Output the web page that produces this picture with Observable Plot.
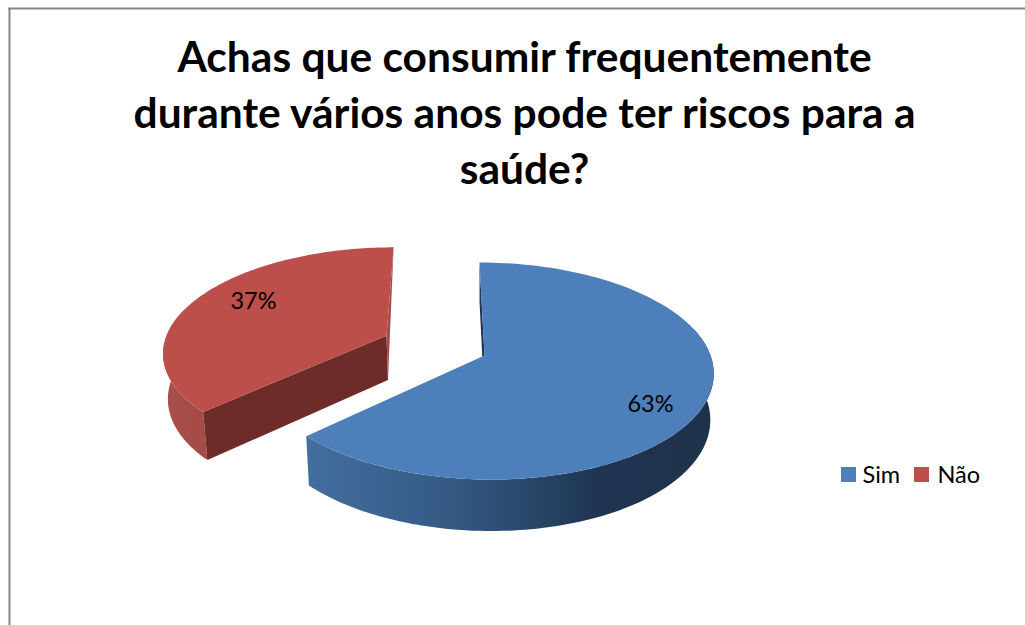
<!DOCTYPE html>
<html lang="pt">
<head>
<meta charset="utf-8">
<script src="https://cdn.jsdelivr.net/npm/d3@7"></script>
<script src="https://cdn.jsdelivr.net/npm/@observablehq/plot@0.6"></script>
<style>
  html, body { margin: 0; padding: 0; background: #fff; overflow: hidden; }
  svg { display: block; }
</style>
</head>
<body>
<div id="chart"></div>
<script>
// Survey answers
const categories = ["Sim", "Não"];
const shares = [63, 37];
const titleLines = [
  "Achas que consumir frequentemente",
  "durante vários anos pode ter riscos para a",
  "saúde?"
];

// Slice styling
const topColors = ["#4d7fbb", "#bd4f4b"];
const innerWallColors = ["#1f3552", "#6d2b2a"];
const outerWallFills = ["url(#blue-wall)", "url(#red-wall)"];
const explode = [0, 0.48];
const labelAnchors = [[650, 404], [253, 301]];

// Perspective view of the unit disc: centre, horizontal and vertical radii, depth factor, shear
const view = {cx: 484, cy: 355, f: 226, g: 106.3, k: 1 / 7, s: 5.7};
const base = {dy: 45.3, sx: 0.985, sy: 1.05};

function onTop([u, v]) {
  const w = 1 - view.k * v;
  return {
    x: view.cx + (view.f * u + view.s * v) / w,
    y: view.cy + (view.g * v) / w
  };
}
function onBase(p) {
  const q = onTop(p);
  return {
    x: view.cx + (q.x - view.cx) * base.sx,
    y: view.cy + base.dy + (q.y - view.cy) * base.sy
  };
}

const total = d3.sum(shares);
const ends = Array.from(d3.cumsum(shares), (c) => (c / total) * 2 * Math.PI);
const slices = categories.map((name, i) => {
  const a0 = i ? ends[i - 1] : 0;
  const a1 = ends[i];
  const mid = (a0 + a1) / 2;
  const origin = [explode[i] * Math.sin(mid), -explode[i] * Math.cos(mid)];
  const at = (a) => [origin[0] + Math.sin(a), origin[1] - Math.cos(a)];
  const arc = (from, to) => d3.range(0, 121).map((j) => at(from + ((to - from) * j) / 120));
  return {name, i, a0, a1, origin, at, arc};
});

const toRad = Math.PI / 180;
const topFace = (s) => [onTop(s.origin), ...s.arc(s.a0, s.a1).map(onTop)];
const outerWall = (s) => {
  const arc = s.arc(Math.max(s.a0, 75 * toRad), Math.min(s.a1, 285 * toRad));
  return [...arc.map(onTop), ...arc.reverse().map(onBase)];
};
// Cut faces of a slice, from the apex out to the rim
const cutFace = (s, a) => [onTop(s.origin), onTop(s.at(a)), onBase(s.at(a)), onBase(s.origin)];
const cutSliver = (s, a) => [onTop(s.origin), onTop(s.at(a)), onBase(s.origin)];

const face = (points, fill) => Plot.line(points, {x: "x", y: "y", fill, stroke: "none"});

const gradient = (id, stops) => () => {
  const defs = d3.create("svg:defs");
  const g = defs.append("linearGradient").attr("id", id).attr("x1", 0).attr("x2", 1).attr("y1", 0).attr("y2", 0);
  for (const [offset, color] of stops) g.append("stop").attr("offset", offset).attr("stop-color", color);
  return defs.node();
};

const [blue, red] = slices;
const font = "Lato, 'Open Sans', sans-serif";

const figure = Plot.plot({
  width: 1025,
  height: 625,
  margin: 0,
  x: {domain: [0, 1025], range: [0, 1025], axis: null},
  y: {domain: [0, 625], range: [0, 625], axis: null},
  style: {background: "#fff", fontFamily: font},
  marks: [
    gradient("blue-wall", [[0, "#436e9f"], [0.35, "#345a84"], [0.72, "#1f3552"], [1, "#1e3249"]]),
    gradient("red-wall", [[0, "#a94f4c"], [1, "#a34b48"]]),

    // Chart frame
    Plot.ruleX([9], {y1: 8, y2: 625, stroke: "#878787", strokeWidth: 2}),
    Plot.ruleY([8], {x1: 8, x2: 1025, stroke: "#878787", strokeWidth: 2}),

    // Title
    Plot.text(titleLines, {
      x: () => 524,
      y: (d, i) => 58 + i * 56,
      text: (d) => d,
      fontSize: 42.5,
      fontWeight: 700,
      fill: "#000"
    }),

    // Exploded slice
    face(outerWall(red), outerWallFills[1]),
    face(cutFace(red, red.a0), innerWallColors[1]),
    face(cutSliver(red, red.a1), "#a34b48"),
    face(topFace(red), topColors[1]),

    // Main slice
    face(cutFace(blue, blue.a0), innerWallColors[0]),
    face(outerWall(blue), outerWallFills[0]),
    face(topFace(blue), topColors[0]),

    // Value labels
    Plot.text(slices, {
      x: (s) => labelAnchors[s.i][0],
      y: (s) => labelAnchors[s.i][1],
      text: (s) => `${shares[s.i]}%`,
      fontSize: 23.5,
      fill: "#000"
    }),

    // Legend
    Plot.rect(slices, {
      x1: (s) => [841, 914][s.i],
      x2: (s) => [856, 929][s.i],
      y1: () => 467,
      y2: () => 482,
      fill: (s) => topColors[s.i]
    }),
    Plot.text(slices, {
      x: (s) => [862, 937][s.i],
      y: () => 475,
      text: "name",
      textAnchor: "start",
      fontSize: 23.5,
      fill: "#000"
    })
  ]
});

document.getElementById("chart").append(figure);
</script>
</body>
</html>
